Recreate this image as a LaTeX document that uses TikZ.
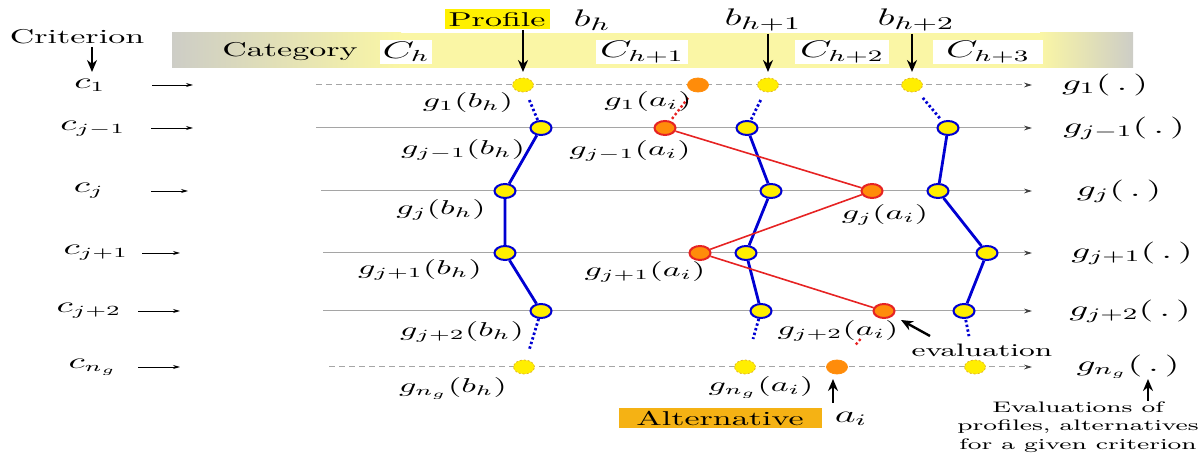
\documentclass[tikz,border=0pt]{standalone}
\usepackage{graphicx}
\usetikzlibrary{arrows.meta,calc,shapes.geometric}
\newcommand{\sx}[1]{\scalebox{1.7}[1]{#1}}
\definecolor{baryel}{RGB}{250,246,165}
\definecolor{bargray}{RGB}{205,205,198}
\definecolor{profyel}{RGB}{255,240,0}
\definecolor{altorange}{RGB}{245,178,20}
\definecolor{dotyel}{RGB}{255,238,0}
\definecolor{dotorange}{RGB}{255,140,10}
\definecolor{dotedge}{RGB}{225,180,40}
\definecolor{pblue}{RGB}{0,0,210}
\definecolor{pred}{RGB}{230,35,35}
\definecolor{rowgray}{RGB}{165,165,165}
\begin{document}
\begin{tikzpicture}[x=0.5pt,y=-0.5pt,
  dotbase/.style={ellipse,minimum width=10.5pt,minimum height=7pt,inner sep=0pt},
  ydot/.style={dotbase,fill=dotyel,draw=pblue,line width=1pt},
  ydotd/.style={dotbase,fill=dotyel,draw=dotedge,dash pattern=on 1pt off 1pt,line width=0.4pt},
  odot/.style={dotbase,fill=dotorange,draw=pred,line width=1pt},
  odotd/.style={dotbase,fill=dotorange,draw=dotorange},
  rowline/.style={draw=rowgray,line width=0.5pt,-{Stealth[length=4pt,width=2.4pt,color=black!75]}},
  rowdash/.style={rowline,dash pattern=on 3pt off 2pt},
  bigarrow/.style={line width=1.2pt,-{Stealth[length=6pt,width=5pt]}},
  smallarrow/.style={line width=0.4pt,-{Stealth[length=3.5pt,width=2pt]}},
  bline/.style={pblue,line width=1.4pt},
  bdots/.style={pblue,line width=1.4pt,dash pattern=on 1.2pt off 1.2pt},
  rline/.style={pred,line width=0.8pt},
  rdots/.style={pred,line width=1.2pt,dash pattern=on 1.2pt off 1.2pt},
  txt/.style={inner sep=0pt,font=\fontsize{10}{12}\selectfont},
  leftlab/.style={inner sep=0pt,font=\fontsize{10.5}{12}\selectfont},
  rightlab/.style={inner sep=0pt,font=\fontsize{11}{13}\selectfont},
  inlab/.style={inner sep=0pt,font=\fontsize{10}{12}\selectfont},
  blab/.style={inner sep=0pt,font=\fontsize{12.5}{14}\selectfont},
  wbox/.style={fill=white,inner sep=0pt,minimum height=12pt,font=\fontsize{11.5}{13}\selectfont}
]
\useasboundingbox (0,0) rectangle (1199,458);

% category bar
\shade[left color=bargray,right color=baryel] (172,33) rectangle (401,68);
\fill[baryel] (400,33) rectangle (1041,68);
\shade[left color=baryel,right color=bargray] (1040,33) rectangle (1133,68);
\node[txt] (cat) at (290,52) {\sx{Category}};
\node[wbox,minimum width=26pt] (Ch) at (406,52) {\sx{$C_h$}};
\node[wbox,minimum width=46pt] (Ch1) at (642,52) {\sx{$C_{h+1}$}};
\node[wbox,minimum width=47pt] (Ch2) at (842,52) {\sx{$C_{h+2}$}};
\node[wbox,minimum width=55pt] (Ch3) at (988,52) {\sx{$C_{h+3}$}};

% top labels
\node[txt] (crit) at (77,37) {\sx{Criterion}};
\node[txt,fill=profyel,minimum width=52.5pt,minimum height=10pt] (prof) at (497,19.5) {\sx{Profile}};
\node[blab] (bh) at (592,20) {\sx{$b_h$}};
\node[blab] (bh1) at (763,20) {\sx{$b_{h+1}$}};
\node[blab] (bh2) at (916,20) {\sx{$b_{h+2}$}};

% left labels
\node[leftlab] (c1) at (90,85) {\sx{$c_1$}};
\node[leftlab] (cjm) at (93,129) {\sx{$c_{j-1}$}};
\node[leftlab] (cj) at (89,191) {\sx{$c_j$}};
\node[leftlab] (cjp) at (96,253) {\sx{$c_{j+1}$}};
\node[leftlab] (cjpp) at (89,311) {\sx{$c_{j+2}$}};
\node[leftlab] (cng) at (93,367) {\sx{$c_{n_g}$}};

% coordinates for arrows and rows
\coordinate (critA) at (92,47);
\coordinate (critB) at (92,72);
\foreach \n/\y/\a/\b/\s in {1/85/152/193/316, 2/128/151/193/316, 3/191/151/188/321, 4/253/142/180/323, 5/311/138/180/323, 6/367/138/180/329}{
  \coordinate (la\n) at (\a,\y);
  \coordinate (lb\n) at (\b,\y);
  \coordinate (rs\n) at (\s,\y);
  \coordinate (re\n) at (1032,\y);
}
\draw[bigarrow] (critA) -- (critB);
\foreach \n in {1,...,6}{\draw[smallarrow] (la\n) -- (lb\n);}

% row lines
\draw[rowdash] (rs1) -- (re1);
\draw[rowline] (rs2) -- (re2);
\draw[rowline] (rs3) -- (re3);
\draw[rowline] (rs4) -- (re4);
\draw[rowline] (rs5) -- (re5);
\draw[rowdash] (rs6) -- (re6);

% right labels
\node[rightlab] (g1) at (1105,85) {\sx{$g_1(\,.\,)$}};
\node[rightlab] (gjm) at (1124,128) {\sx{$g_{j-1}(\,.\,)$}};
\node[rightlab] (gj) at (1119,191) {\sx{$g_j(\,.\,)$}};
\node[rightlab] (gjp) at (1132,253) {\sx{$g_{j+1}(\,.\,)$}};
\node[rightlab] (gjpp) at (1130,311) {\sx{$g_{j+2}(\,.\,)$}};
\node[rightlab] (gng) at (1128,367) {\sx{$g_{n_g}(\,.\,)$}};

% dots row 1
\node[ydotd] (p1a) at (523,85) {};
\node[odotd] (a1) at (698,85) {};
\node[ydotd] (p1b) at (768,85) {};
\node[ydotd] (p1c) at (912,85) {};
% row j-1
\node[ydot] (p2a) at (541,128) {};
\node[odot] (a2) at (665,128) {};
\node[ydot] (p2b) at (747,128) {};
\node[ydot] (p2c) at (948,128) {};
% row j
\node[ydot] (p3a) at (505,191) {};
\node[ydot] (p3b) at (771,191) {};
\node[odot] (a3) at (872,191) {};
\node[ydot] (p3c) at (938,191) {};
% row j+1
\node[ydot] (p4a) at (505,253) {};
\node[odot] (a4) at (700,253) {};
\node[ydot] (p4b) at (746,253) {};
\node[ydot] (p4c) at (987,253) {};
% row j+2
\node[ydot] (p5a) at (541,311) {};
\node[ydot] (p5b) at (761,311) {};
\node[odot] (a5) at (884,311) {};
\node[ydot] (p5c) at (964,311) {};
% row n_g
\node[ydotd] (p6a) at (524,367) {};
\node[ydotd] (p6b) at (745,367) {};
\node[odotd] (a6) at (837,367) {};
\node[ydotd] (p6c) at (975,367) {};

% profile chains
\draw[bline] (p2a) -- (p3a) -- (p4a) -- (p5a);
\draw[bline] (p2b) -- (p3b) -- (p4b) -- (p5b);
\draw[bline] (p2c) -- (p3c) -- (p4c) -- (p5c);
\draw[rline] (a2) -- (a3) -- (a4) -- (a5);
\draw[bdots] ($(p1a.center)!0.35!(p2a.center)$) -- ($(p1a.center)!0.82!(p2a.center)$);
\draw[bdots] ($(p5a.center)!0.14!(p6a.center)$) -- ($(p5a.center)!0.7!(p6a.center)$);
\draw[bdots] ($(p1b.center)!0.35!(p2b.center)$) -- ($(p1b.center)!0.82!(p2b.center)$);
\draw[bdots] ($(p5b.center)!0.14!(p6b.center)$) -- ($(p5b.center)!0.5!(p6b.center)$);
\draw[bdots] ($(p1c.center)!0.3!(p2c.center)$) -- ($(p1c.center)!0.78!(p2c.center)$);
\draw[bdots] ($(p5c.center)!0.16!(p6c.center)$) -- ($(p5c.center)!0.45!(p6c.center)$);
\draw[rdots] ($(a1.center)!0.3!(a2.center)$) -- ($(a1.center)!0.8!(a2.center)$);
\draw[rdots] ($(a5.center)!0.5!(a6.center)$) -- ($(a5.center)!0.62!(a6.center)$);

% inner labels
\node[inlab] (l1b) at (468,103) {\sx{$g_1(b_h)$}};
\node[inlab] (l1a) at (648,102) {\sx{$g_1(a_i)$}};
\node[inlab] (l2b) at (463,150) {\sx{$g_{j-1}(b_h)$}};
\node[inlab] (l2a) at (630,151) {\sx{$g_{j-1}(a_i)$}};
\node[inlab] (l3b) at (441,210) {\sx{$g_j(b_h)$}};
\node[inlab] (l3a) at (885,215) {\sx{$g_j(a_i)$}};
\node[inlab] (l4b) at (420,270) {\sx{$g_{j+1}(b_h)$}};
\node[inlab] (l4a) at (645,272) {\sx{$g_{j+1}(a_i)$}};
\node[inlab] (l5b) at (462,332) {\sx{$g_{j+2}(b_h)$}};
\node[inlab] (l5a) at (838,331) {\sx{$g_{j+2}(a_i)$}};
\node[inlab] (l6b) at (453,388) {\sx{$g_{n_g}(b_h)$}};
\node[inlab] (l6a) at (761,387) {\sx{$g_{n_g}(a_i)$}};

% top arrows
\coordinate (pb) at (523,72);
\coordinate (b1t) at (768,34);
\coordinate (b1b) at (768,72);
\coordinate (b2t) at (912,34);
\coordinate (b2b) at (912,72);
\draw[bigarrow] (prof.south -| pb) -- (pb);
\draw[bigarrow] (b1t) -- (b1b);
\draw[bigarrow] (b2t) -- (b2b);

% evaluation
\node[txt,font=\fontsize{9}{11}\selectfont] (eval) at (982,350) {\sx{evaluation}};
\coordinate (evs) at (930,336);
\coordinate (eve) at (901,320);
\draw[bigarrow] (evs) -- (eve);

% alternative
\node[txt,fill=altorange,minimum width=101.5pt,minimum height=10pt] (alt) at (720,418) {\sx{Alternative}};
\node[blab,font=\fontsize{11.5}{13}\selectfont] (ai) at (851,419) {\sx{$a_i$}};
\coordinate (ais) at (833,403);
\coordinate (aie) at (833,379);
\draw[bigarrow] (ais) -- (aie);

% bottom right note
\coordinate (gus) at (1148,401);
\coordinate (gue) at (1148,379);
\draw[bigarrow] (gus) -- (gue);
\node[txt,align=center,font=\fontsize{7.6}{9.3}\selectfont] (note) at (1078,427) {\sx{Evaluations of}\\\sx{profiles, alternatives}\\\sx{for a given criterion}};
\end{tikzpicture}
\end{document}
